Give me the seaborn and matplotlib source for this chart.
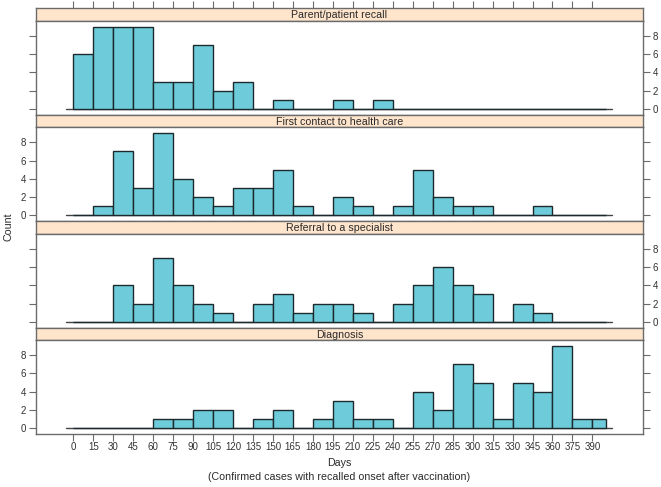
import numpy as np
import pandas as pd
import matplotlib
matplotlib.use("Agg")
import matplotlib.pyplot as plt
import seaborn as sns

sns.set_style("white")
plt.rcParams['font.family'] = ['Liberation Sans', 'DejaVu Sans']

# bin edges (days)
bin_edges = list(range(0, 391, 15)) + [400]
bin_starts = bin_edges[:-1]

panel_titles = ["Parent/patient recall", "First contact to health care",
                "Referral to a specialist", "Diagnosis"]

recall_counts = [6, 9, 9, 9, 3, 3, 7, 2, 3, 0, 1, 0, 0, 1, 0, 1,
                 0, 0, 0, 0, 0, 0, 0, 0, 0, 0, 0]
contact_counts = [0, 1, 7, 3, 9, 4, 2, 1, 3, 3, 5, 1, 0, 2, 1, 0,
                  1, 5, 2, 1, 1, 0, 0, 1, 0, 0, 0]
referral_counts = [0, 0, 4, 2, 7, 4, 2, 1, 0, 2, 3, 1, 2, 2, 1, 0,
                   2, 4, 6, 4, 3, 0, 2, 1, 0, 0, 0]
diagnosis_counts = [0, 0, 0, 0, 1, 1, 2, 2, 0, 1, 2, 0, 1, 3, 1, 1,
                    0, 4, 2, 7, 5, 1, 5, 4, 9, 1, 1]

x_ticks = list(range(0, 391, 15))
y_ticks = [0, 2, 4, 6, 8]

all_counts = [recall_counts, contact_counts, referral_counts, diagnosis_counts]

W, H = 661, 487
fig = plt.figure(figsize=(W / 100, H / 100), dpi=100)

left_px, right_px = 36, 643
top_px, bottom_px = 8.3, 434
panel_h = (bottom_px - top_px) / 4
strip_h = 12.7

frame_col = "#6b6b6b"
bar_fill = "#6ECCDA"
bar_edge = "#1c2a2e"
strip_fill = "#FFE5CC"
text_col = "#2a2a2a"

xlim = (-28, 428)
ylim = (-0.63, 9.63)

def fx(px):
    return px / W

def fy(py):
    return 1 - py / H

for i, (title, counts) in enumerate(zip(panel_titles, all_counts)):
    ptop = top_px + i * panel_h
    # strip axes
    sax = fig.add_axes([fx(left_px), fy(ptop + strip_h), fx(right_px) - fx(left_px),
                        (strip_h) / H])
    sax.set_facecolor(strip_fill)
    sax.set_xlim(xlim)
    sax.set_ylim(0, 1)
    sax.text(0.5, 0.45, title, transform=sax.transAxes, ha="center", va="center",
             fontsize=7.7, color=text_col)
    for sp in sax.spines.values():
        sp.set_color(frame_col)
        sp.set_linewidth(1.0)
    sax.set_yticks([])
    if i == 0:
        sax.set_xticks(x_ticks)
        sax.tick_params(axis="x", which="both", top=True, bottom=False,
                        labeltop=False, labelbottom=False, direction="out",
                        length=5, color=frame_col, width=0.8)
    else:
        sax.set_xticks([])

    # plot axes
    pax = fig.add_axes([fx(left_px), fy(ptop + panel_h), fx(right_px) - fx(left_px),
                        (panel_h - strip_h) / H])
    df = pd.DataFrame({"day": bin_starts, "count": counts})
    sns.histplot(data=df, x="day", weights="count", bins=bin_edges, ax=pax,
                 color=bar_fill, edgecolor=bar_edge, linewidth=1.0, alpha=1.0)
    pax.plot([-5.5, 404.5], [0, 0], color="#444444", lw=1.0, zorder=0.5)
    pax.set_xlim(xlim)
    pax.set_ylim(ylim)
    pax.set_xlabel("")
    pax.set_ylabel("")
    for sp in pax.spines.values():
        sp.set_color(frame_col)
        sp.set_linewidth(1.0)
    pax.set_yticks(y_ticks)
    pax.set_yticklabels([str(v) for v in y_ticks])
    label_left = (i % 2 == 1)
    pax.tick_params(axis="y", left=True, right=True, labelleft=label_left,
                    labelright=not label_left, direction="out", length=5,
                    color=frame_col, width=0.8, labelsize=7, labelcolor="#333333",
                    pad=2)
    if i == 3:
        pax.set_xticks(x_ticks)
        pax.set_xticklabels([str(v) for v in x_ticks])
        pax.tick_params(axis="x", bottom=True, top=False, labelbottom=True,
                        direction="out", length=5, color=frame_col, width=0.8,
                        labelsize=7, labelcolor="#333333", pad=1)
    else:
        pax.set_xticks([])

fig.text(fx(9), fy(227), "Count", rotation=90, ha="center", va="center",
         fontsize=7.7, color=text_col)
fig.text(fx((left_px + right_px) / 2), fy(463), "Days", ha="center", va="center",
         fontsize=7.7, color=text_col)
fig.text(fx((left_px + right_px) / 2), fy(477),
         "(Confirmed cases with recalled onset after vaccination)",
         ha="center", va="center", fontsize=7.7, color=text_col)

fig.savefig("out.png", dpi=100)
